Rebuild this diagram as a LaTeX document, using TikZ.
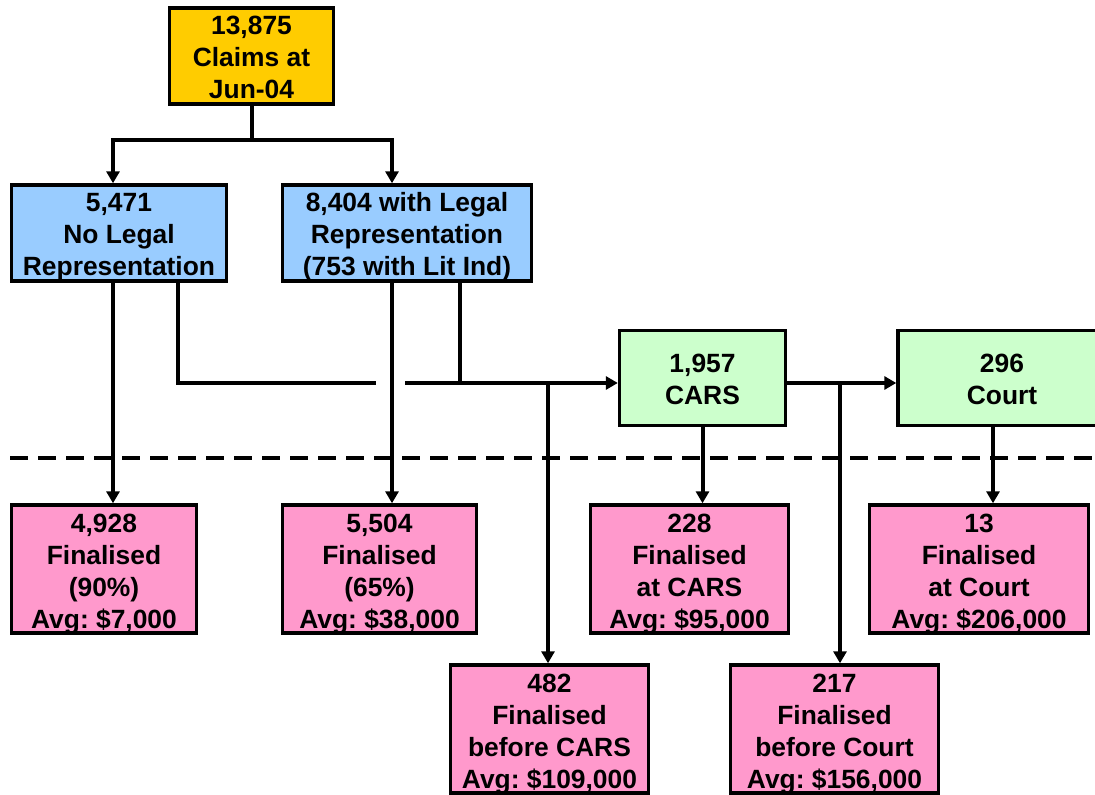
\documentclass[tikz,border=0pt]{standalone}
\usepackage{fontspec}
\setmainfont{Liberation Sans}
\frenchspacing
\usetikzlibrary{arrows.meta,positioning}
\definecolor{claimgold}{RGB}{255,204,0}
\definecolor{reprblue}{RGB}{153,204,255}
\definecolor{stagegreen}{RGB}{204,255,204}
\definecolor{finalpink}{RGB}{255,153,204}
\newcommand{\linestrut}{\rule{0pt}{13.5pt}}
\tikzset{
    box/.style={draw=black, line width=1.7pt, align=center, inner sep=0pt,
        text depth=2.5pt, font=\fontsize{13.2}{16}\selectfont\bfseries},
    finalbox/.style={box, fill=finalpink, minimum height=62.3pt},
    link/.style={line width=2pt},
    flow/.style={link, -{Triangle[length=6pt,width=6.5pt]}},
}

\begin{document}
\begin{tikzpicture}[x=0.5pt,y=-0.5pt]
    \useasboundingbox (0,0) rectangle (1095,795);

    \node[box, fill=claimgold, minimum width=82pt, minimum height=46.3pt] (claims) at (251.5,56) {\linestrut 13,875\\Claims at\\Jun-04};
    \node[box, fill=reprblue, minimum width=107.3pt, minimum height=47.3pt] (nolegal) at (119,233) {\linestrut 5,471\\No Legal\\Representation};
    \node[box, fill=reprblue, minimum width=124.3pt, minimum height=47.3pt] (legal) at (407,233) {\linestrut 8,404 with Legal\\Representation\\(753 with Lit Ind)};
    \node[box, fill=stagegreen, minimum width=83pt, minimum height=47.3pt] (cars) at (702.5,378) {\linestrut 1,957\\CARS};
    \node[box, fill=stagegreen, minimum width=104pt, minimum height=47.3pt] (court) at (1002,378) {\linestrut 296\\Court};

    \node[finalbox, minimum width=92.3pt] (fin1) at (104,569) {\linestrut 4,928\\Finalised\\(90\%)\\Avg: \$7,000};
    \node[finalbox, minimum width=97pt] (fin2) at (379.5,569) {\linestrut 5,504\\Finalised\\(65\%)\\Avg: \$38,000};
    \node[finalbox, minimum width=99pt] (fincars) at (689.5,569) {\linestrut 228\\Finalised\\at CARS\\Avg: \$95,000};
    \node[finalbox, minimum width=109.3pt] (fincourt) at (979,569) {\linestrut 13\\Finalised\\at Court\\Avg: \$206,000};
    \node[finalbox, minimum width=99pt] (bcars) at (549.5,729) {\linestrut 482\\Finalised\\before CARS\\Avg: \$109,000};
    \node[finalbox, minimum width=104pt] (bcourt) at (834.5,729) {\linestrut 217\\Finalised\\before Court\\Avg: \$156,000};

    \coordinate (divL) at (10,458);
    \coordinate (divR) at (1095,458);
    \draw[line width=2.2pt, dash pattern=on 9pt off 5pt] (divL) -- (divR);

    \coordinate (split) at ([yshift=-17pt]claims.south);
    \coordinate (gapL) at (376,383);
    \coordinate (gapR) at (405,383);

    \draw[link] (claims.south) -- (split);
    \draw[flow] (split) -| ([xshift=-3pt]nolegal.north);
    \draw[flow] (split) -| ([xshift=-7.5pt]legal.north);

    \draw[flow] ([xshift=-3pt]nolegal.south) -- ([xshift=-3pt]nolegal.south |- fin1.north);
    \draw[link] ([xshift=29.5pt]nolegal.south) |- (gapL);
    \draw[flow] ([xshift=-7.5pt]legal.south) -- ([xshift=-7.5pt]legal.south |- fin2.north);
    \draw[link] ([xshift=26.5pt]legal.south) -- ([xshift=26.5pt]legal.south |- gapR);
    \draw[flow] (gapR) -- (gapR -| cars.west);
    \draw[flow] ([xshift=-0.75pt]bcars.north |- gapR) -- ([xshift=-0.75pt]bcars.north);

    \draw[flow] (gapR -| cars.east) -- (gapR -| court.west);
    \draw[flow] ([xshift=2.75pt]bcourt.north |- gapR) -- ([xshift=2.75pt]bcourt.north);
    \draw[flow] (cars.south) -- (cars.south |- fincars.north);
    \draw[flow] ([xshift=-4.5pt]court.south) -- ([xshift=-4.5pt]court.south |- fincourt.north);
\end{tikzpicture}
\end{document}
